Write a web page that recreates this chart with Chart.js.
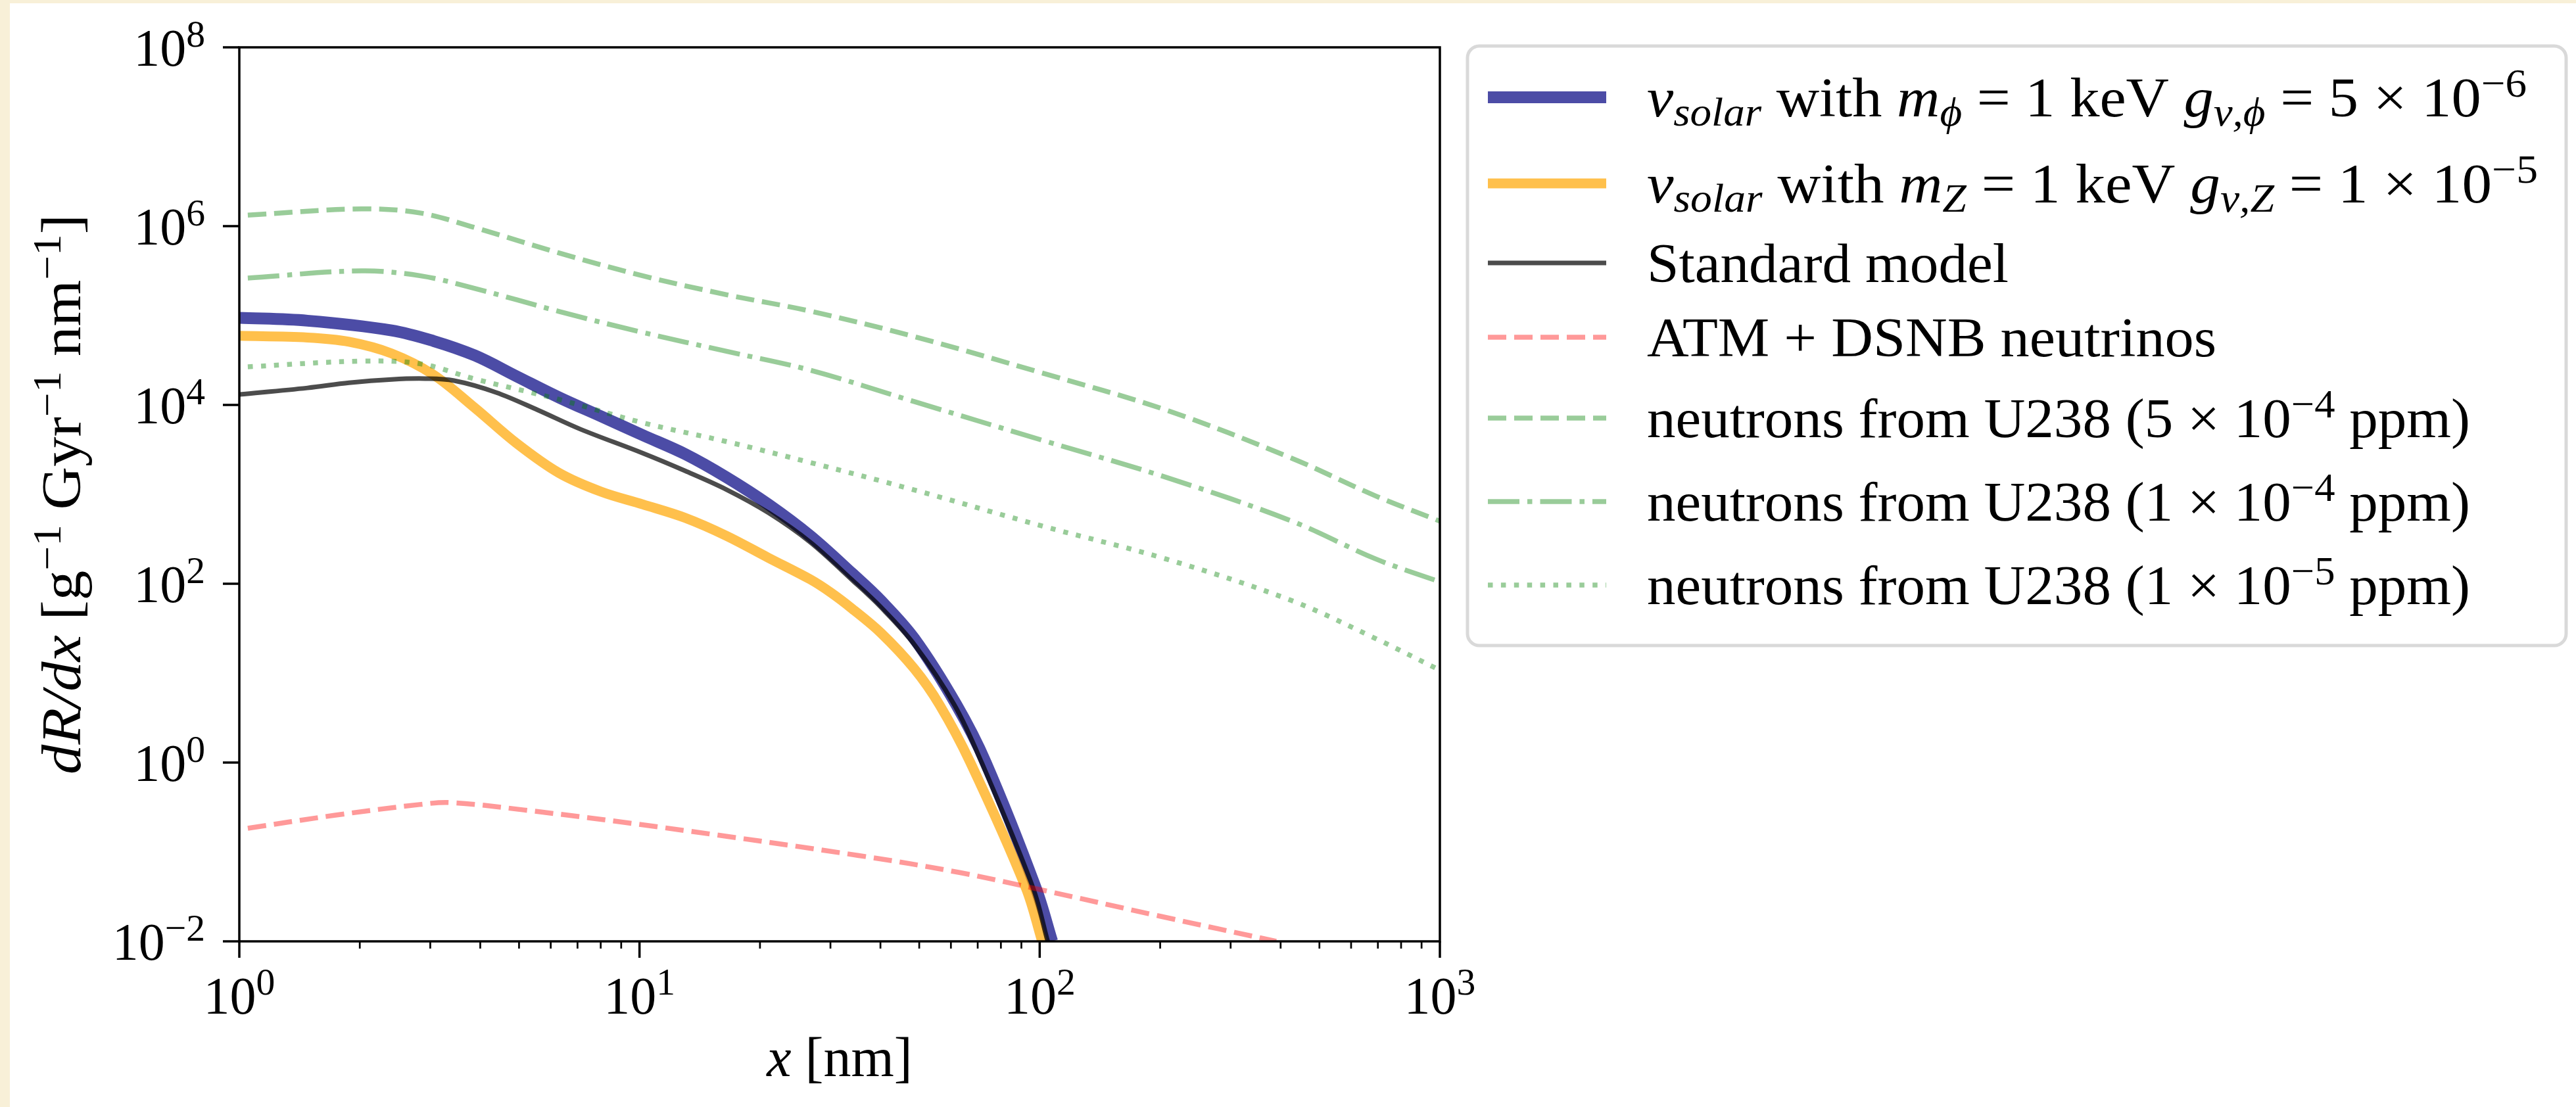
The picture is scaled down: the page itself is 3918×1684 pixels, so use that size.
<!DOCTYPE html>
<html>
<head>
<meta charset="utf-8">
<script src="https://cdn.jsdelivr.net/npm/chart.js@4.4.0/dist/chart.umd.min.js"></script>
<style>
    html, body { margin: 0; padding: 0; background: #fff; }
    canvas { display: block; }
</style>
</head>
<body>
<canvas id="graphique" width="3918" height="1684"></canvas>
<script>
// Spectres dR/dx en fonction de x (nm)
const xScalaire = [1, 1.48, 2.40, 3.05, 3.88, 4.94, 6.30, 8.02, 10.2, 13.0, 16.5, 21.0, 26.7, 34.0, 40.1, 48.6, 61.9, 73.3, 97.7, 107.4];
const yScalaire = [9.44e4, 8.75e4, 6.82e4, 5.21e4, 3.57e4, 2.08e4, 1.21e4, 7450, 4580, 2820, 1550, 771, 343, 130, 64.6, 24.3, 4.43, 1.0, 0.0398, 0.01];

const xVecteur = [1, 1.48, 1.88, 2.40, 3.05, 3.88, 4.94, 6.30, 8.02, 10.2, 13.0, 16.5, 21.0, 26.7, 30.1, 34.0, 40.1, 48.6, 56.2, 67.1, 92.3, 101.4];
const yVecteur = [5.93e4, 5.68e4, 5.09e4, 3.77e4, 2.19e4, 9250, 3700, 1730, 1070, 771, 546, 343, 195, 112, 79.4, 52.5, 28.2, 11.2, 4.42, 1.0, 0.0398, 0.01];

const xStandard = [1, 1.48, 1.88, 2.40, 2.91, 3.44, 4.38, 5.57, 7.10, 10.2, 13.0, 16.5, 21.0, 26.7, 34.0, 40.1, 48.7, 61.2, 71.6, 96.2, 104.7];
const yStandard = [1.31e4, 1.55e4, 1.77e4, 1.93e4, 1.97e4, 1.87e4, 1.38e4, 8770, 5380, 2880, 1830, 1130, 622, 292, 110, 54.7, 20.7, 4.42, 1.0, 0.0398, 0.01];

const xAtm = [1.05, 1.74, 2.82, 3.38, 5.14, 11.1, 35.3, 63.0, 100, 200, 390];
const yAtm = [0.184, 0.258, 0.339, 0.356, 0.295, 0.191, 0.0912, 0.0589, 0.0380, 0.0191, 0.01];

const xNeutrons = [1.05, 2.02, 2.84, 3.88, 6.30, 10.2, 16.5, 26.7, 48.6, 100, 207, 427, 692, 1000];
const yNeutrons5e4 = [1.33e6, 1.56e6, 1.40e6, 9.62e5, 5.01e5, 2.78e5, 1.71e5, 1.12e5, 5.81e4, 2.32e4, 8770, 2530, 957, 501];
const yNeutrons1e4 = [2.63e5, 3.16e5, 2.78e5, 2.01e5, 1.11e5, 6.46e4, 3.98e4, 2.45e4, 1.09e4, 4110, 1550, 501, 189, 105];
const yNeutrons1e5 = [2.67e4, 3.09e4, 2.88e4, 1.95e4, 1.15e4, 6310, 3890, 2270, 1120, 450, 189, 64.6, 24.3, 10.8];

// Graduations (exposants de 10)
const exposantsX = [0, 1, 2, 3];
const exposantsY = [-2, 0, 2, 4, 6, 8];

// Morceaux de texte : romain, italique, exposant, indice
const r = t => ({ t: t });
const it = t => ({ t: t, i: true });
const sup = t => ({ t: t, p: 'sup' });
const sub = (t, i) => ({ t: t, p: 'sub', i: i });

const libellesLegende = [
    [it('ν'), sub('solar', true), r(' with '), it('m'), sub('ϕ', true), r(' = 1 keV '), it('g'), sub('ν,ϕ', true), r(' = 5 × 10'), sup('−6')],
    [it('ν'), sub('solar', true), r(' with '), it('m'), sub('Z', true), r(' = 1 keV '), it('g'), sub('ν,Z', true), r(' = 1 × 10'), sup('−5')],
    [r('Standard model')],
    [r('ATM + DSNB neutrinos')],
    [r('neutrons from U238 (5 × 10'), sup('−4'), r(' ppm)')],
    [r('neutrons from U238 (1 × 10'), sup('−4'), r(' ppm)')],
    [r('neutrons from U238 (1 × 10'), sup('−5'), r(' ppm)')]
];
const titreY = [it('dR/dx'), r(' [g'), sup('−1'), r(' Gyr'), sup('−1'), r(' nm'), sup('−1'), r(']')];
const titreX = [it('x'), r(' [nm]')];

function versPoints(xs, ys) {
    return xs.map((x, i) => ({ x: x, y: ys[i] }));
}

function police(taille, italique) {
    return (italique ? 'italic ' : '') + taille + 'px "Liberation Serif", "DejaVu Serif", serif';
}

function tailleSegment(s, taille) {
    return s.p ? taille * 0.72 : taille;
}

function largeurTexte(ctx, segments, taille) {
    let largeur = 0;
    segments.forEach(s => {
        ctx.font = police(tailleSegment(s, taille), s.i);
        largeur += ctx.measureText(s.t).width;
    });
    return largeur;
}

// Ecrit une suite de morceaux sur une ligne de base, étirée si une largeur est donnée
function dessinerTexte(ctx, segments, x, y, taille, align, largeurCible) {
    const naturelle = largeurTexte(ctx, segments, taille);
    const echelle = largeurCible ? largeurCible / naturelle : 1;
    const total = naturelle * echelle;
    let depart = x;
    if (align === 'center') depart = x - total / 2;
    if (align === 'right') depart = x - total;
    ctx.save();
    ctx.translate(depart, y);
    ctx.scale(echelle, 1);
    ctx.fillStyle = '#000';
    ctx.textBaseline = 'alphabetic';
    ctx.textAlign = 'left';
    let cx = 0;
    segments.forEach(s => {
        const t = tailleSegment(s, taille);
        ctx.font = police(t, s.i);
        let dy = 0;
        if (s.p === 'sup') dy = -0.36 * taille;
        if (s.p === 'sub') dy = 0.17 * taille;
        ctx.fillText(s.t, cx, dy);
        cx += ctx.measureText(s.t).width;
    });
    ctx.restore();
}

function exposant(e) {
    return [r('10'), sup(String(e).replace('-', '−'))];
}

const habillage = {
    id: 'habillage',
    beforeDraw(chart) {
        const ctx = chart.ctx;
        ctx.save();
        ctx.fillStyle = '#f8f0d8';
        ctx.fillRect(0, 0, chart.width, chart.height);
        ctx.fillStyle = '#ffffff';
        ctx.fillRect(15, 5, chart.width - 15, chart.height - 5);
        ctx.restore();
    },
    afterDraw(chart) {
        const ctx = chart.ctx;
        const zone = chart.chartArea;
        const sx = chart.scales.x;
        const sy = chart.scales.y;

        ctx.save();
        ctx.strokeStyle = '#000';
        ctx.lineCap = 'butt';

        // graduations mineures de l'axe x
        ctx.lineWidth = 2.7;
        for (let d = 0; d < 3; d++) {
            for (let k = 2; k <= 9; k++) {
                const px = sx.getPixelForValue(k * Math.pow(10, d));
                ctx.beginPath();
                ctx.moveTo(px, zone.bottom);
                ctx.lineTo(px, zone.bottom + 11);
                ctx.stroke();
            }
        }

        // graduations majeures
        ctx.lineWidth = 3.5;
        exposantsX.forEach(e => {
            const px = sx.getPixelForValue(Math.pow(10, e));
            ctx.beginPath();
            ctx.moveTo(px, zone.bottom);
            ctx.lineTo(px, zone.bottom + 25);
            ctx.stroke();
            dessinerTexte(ctx, exposant(e), px, zone.bottom + 110, 80, 'center');
        });
        exposantsY.forEach(e => {
            const py = sy.getPixelForValue(Math.pow(10, e));
            ctx.beginPath();
            ctx.moveTo(zone.left, py);
            ctx.lineTo(zone.left - 25, py);
            ctx.stroke();
            dessinerTexte(ctx, exposant(e), zone.left - 52, py + 28, 80, 'right');
        });

        // cadre
        ctx.lineWidth = 3.5;
        ctx.strokeRect(zone.left, zone.top, zone.right - zone.left, zone.bottom - zone.top);

        // titres des axes
        dessinerTexte(ctx, titreX, (zone.left + zone.right) / 2, 1637, 84, 'center');
        ctx.save();
        ctx.translate(122, (zone.top + zone.bottom) / 2);
        ctx.rotate(-Math.PI / 2);
        dessinerTexte(ctx, titreY, 0, 0, 84, 'center', 852);
        ctx.restore();

        // légende
        const bx = 2232, by = 70, bw = 1671, bh = 912;
        ctx.beginPath();
        ctx.roundRect(bx, by, bw, bh, 18);
        ctx.fillStyle = '#ffffff';
        ctx.fill();
        ctx.strokeStyle = '#d9d9d9';
        ctx.lineWidth = 5;
        ctx.stroke();

        const lignesY = [148, 279, 400, 513, 636, 763, 890];
        const largeurs = [1338, 1355, 550, 866, 1252, 1252, 1252];
        chart.data.datasets.forEach((ds, i) => {
            const y = lignesY[i];
            ctx.save();
            ctx.strokeStyle = ds.borderColor;
            ctx.lineWidth = ds.borderWidth;
            ctx.setLineDash(ds.borderDash || []);
            ctx.lineCap = 'butt';
            ctx.beginPath();
            ctx.moveTo(2263, y);
            ctx.lineTo(2443, y);
            ctx.stroke();
            ctx.restore();
            dessinerTexte(ctx, libellesLegende[i], 2505, y + 29, 84, 'left', largeurs[i]);
        });
        ctx.restore();
    }
};

function serie(label, xs, ys, couleur, epaisseur, tirets, rang) {
    return {
        label: label,
        data: versPoints(xs, ys),
        borderColor: couleur,
        borderWidth: epaisseur,
        borderDash: tirets,
        borderCapStyle: 'butt',
        borderJoinStyle: 'round',
        pointRadius: 0,
        showLine: true,
        fill: false,
        tension: 0.35,
        clip: 0,
        order: rang
    };
}

const ctx = document.getElementById('graphique').getContext('2d');
new Chart(ctx, {
    type: 'scatter',
    data: {
        datasets: [
            serie('nu solar, scalaire', xScalaire, yScalaire, 'rgba(0, 0, 128, 0.7)', 18, [], 7),
            serie('nu solar, vecteur', xVecteur, yVecteur, 'rgba(255, 165, 0, 0.7)', 15, [], 6),
            serie('Standard model', xStandard, yStandard, 'rgba(0, 0, 0, 0.7)', 7, [], 5),
            serie('ATM + DSNB neutrinos', xAtm, yAtm, 'rgba(255, 0, 0, 0.4)', 7.5, [28, 12], 4),
            serie('neutrons 5e-4 ppm', xNeutrons, yNeutrons5e4, 'rgba(0, 128, 0, 0.4)', 7.5, [28, 12], 3),
            serie('neutrons 1e-4 ppm', xNeutrons, yNeutrons1e4, 'rgba(0, 128, 0, 0.4)', 7.5, [48, 12, 7.5, 12], 2),
            serie('neutrons 1e-5 ppm', xNeutrons, yNeutrons1e5, 'rgba(0, 128, 0, 0.4)', 7.5, [7.5, 12.4], 1)
        ]
    },
    options: {
        responsive: false,
        devicePixelRatio: 1,
        animation: false,
        events: [],
        layout: { padding: { top: 72, right: 1728, left: 0, bottom: 0 } },
        plugins: {
            legend: { display: false },
            tooltip: { enabled: false }
        },
        scales: {
            x: {
                type: 'logarithmic',
                min: 1,
                max: 1000,
                grid: { display: false },
                border: { display: false },
                ticks: { display: false },
                afterFit: scale => { scale.height = 252; }
            },
            y: {
                type: 'logarithmic',
                min: 1e-2,
                max: 1e8,
                grid: { display: false },
                border: { display: false },
                ticks: { display: false },
                afterFit: scale => { scale.width = 364; }
            }
        }
    },
    plugins: [habillage]
});
</script>
</body>
</html>
